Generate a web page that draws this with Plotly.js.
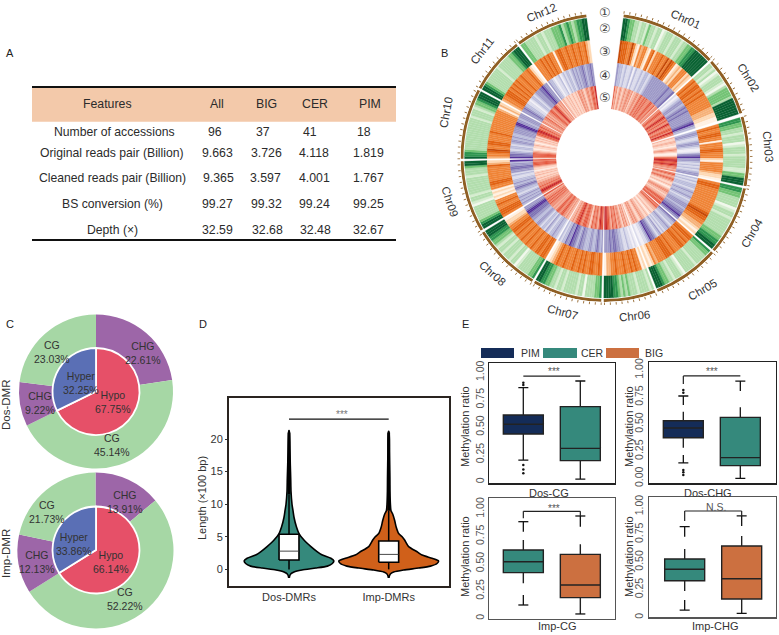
<!DOCTYPE html>
<html><head><meta charset="utf-8">
<script src="https://cdn.plot.ly/plotly-3.0.1.min.js"></script>
<style>html,body{margin:0;padding:0;background:#fff}</style></head>
<body><div id="chart" style="width:779px;height:635px"></div>
<script>
// ---------- Panel A data
const tableHeader = ["Features","All","BIG","CER","PIM"];
const tableLabels = ["Number of accessions","Original reads pair (Billion)","Cleaned reads pair (Billion)","BS conversion (%)","Depth (×)"];
const tableAll = ["96","9.663","9.365","99.27","32.59"];
const tableBIG = ["37","3.726","3.597","99.32","32.68"];
const tableCER = ["41","4.118","4.001","99.24","32.48"];
const tablePIM = ["18","1.819","1.767","99.25","32.67"];

// ---------- Panel B data
const chrNames = ["Chr01","Chr02","Chr03","Chr04","Chr05","Chr06","Chr07","Chr08","Chr09","Chr10","Chr11","Chr12"];
const chrStart = [7.5,48,73.5,102.5,131.5,159.5,181.5,210.5,239.5,269.5,299,323];
const chrEnd = [47,72,101.5,130.5,158.5,180.5,209.5,238.5,268.5,298,322,352.5];
const ringGreen = ["5543322122132212201222122212233445555555","221201222102333325555555","4433221222012221222221133555","44332222012212222222334455","4332222212222201222122334555","212222122232323445555","4332222022122222122122334455","4332222210221222122123344555","55432222220122122222221222355","544322222222222222122212334555","554322222221222222334555","332222122122233342343234455"];
const ringOrange = ["5444335310323310341333433535430121333121","3434434343333332221100","3433443303334433310333332110","3443333333333345443322101","3443434433343444333323101","1033434334333433220","3433443343433433343343210","344344334334334334344332110","3444334330101033443333333421","23345334433334333333333332021","2334443434343343334310","3334343433034433433433433421"];
const ringPurple = ["3221211202112122123333333334334","10123323434333334532","2332112332100134533212121233","2121222123223212233323344543","432212322121321234453211001","0101121122334434333","3234322332223343234453342212","1223221231221233223344455433","23232321223432322112133443325","54432122123323223333455332333","33432211012212333445433","32210112012122123232334323343"];
const ringRed = ["4231232123223323122332343343433344334233","33443345434335433443543","2112211012321001345544543323","3432343211210123322122344344","434322112101211223211232321","21323123324334234455","4454234334213344433454432322","2232334433443232333434343324","345543433322121121210112344434","3444321011210121213445543433","33233423233443345432323","22112121121121332321233234435"];
const paletteGreen = ["#f1f8ec","#d6edd0","#b3deae","#74c476","#2f9650","#0b6333"];
const paletteOrange = ["#fff1e4","#fdd9b5","#f6b27a","#f08538","#e26414","#c64a08"];
const palettePurple = ["#f2f0f7","#dcdcec","#bcbddc","#9e9ac8","#7d72b4","#54309a"];
const paletteRed = ["#fff0e8","#fdd5c5","#f7b39d","#ef8a70","#e5593f","#c72024"];
const circledLabels = ["①","②","③","④","⑤"];

// ---------- Panel C data
const outerLabels = ["CHG","CG","CHG","CG"];
const innerLabels = ["Hypo","Hyper"];
const dosOuter = [22.61,45.14,9.22,23.03];
const dosInner = [67.75,32.25];
const impOuter = [13.91,52.22,12.13,21.73];
const impInner = [66.14,33.86];

// ---------- Panel D data (half-width of each violin at each length)
const dosLen = [-1.3,-1,-0.7,-0.4,-0.1,0.2,0.5,0.9,1.3,1.7,2.2,2.7,3.5,4.5,5.5,6.5,8,9,10,12,14,16,18,20,21.3];
const dosWidth = [0.003,0.007,0.017,0.05,0.13,0.27,0.385,0.435,0.45,0.42,0.335,0.285,0.22,0.15,0.10,0.075,0.05,0.04,0.03,0.02,0.017,0.013,0.01,0.007,0.002];
const impLen = [-1.3,-1,-0.7,-0.4,-0.1,0.2,0.5,0.9,1.3,1.7,2.2,2.7,3.5,4.5,5,5.5,6.5,7.5,8.5,9,10,12,14,16,18,20,21.2];
const impWidth = [0.003,0.007,0.017,0.05,0.15,0.30,0.42,0.485,0.50,0.435,0.335,0.285,0.20,0.16,0.135,0.10,0.075,0.06,0.04,0.023,0.017,0.013,0.012,0.01,0.008,0.007,0.002];
const violinNames = ["Dos-DMRs","Imp-DMRs"];
const violinQ1 = [1.43,1.1], violinMedian = [2.8,2.3], violinQ3 = [5.4,4.35], violinLow = [0,0], violinHigh = [11.5,9], violinTop = [21,21];

// ---------- Panel E data: left / right box of each plot
const dosCgQ1=[.438,.195], dosCgMed=[.526,.307], dosCgQ3=[.611,.687], dosCgLow=[.20,.027], dosCgHigh=[.86,.921];
const dosCgStemLow=[.20,.027], dosCgStemHigh=[.86,.921], dosCgCapLow=[.20,.027], dosCgCapHigh=[.86,.921];
const dosCgOutliers=[[.906,.885,.155,.115,.08],[]];
const dosChgQ1=[.375,.117], dosChgMed=[.465,.191], dosChgQ3=[.532,.563], dosChgLow=[.283,0], dosChgHigh=[.615,.655];
const dosChgStemLow=[.215,0], dosChgStemHigh=[.677,.806], dosChgCapLow=[.142,0], dosChgCapHigh=[.76,.898];
const dosChgOutliers=[[.815,.79,.077,.055,.03],[]];
const impCgQ1=[.418,.189], impCgMed=[.518,.305], impCgQ3=[.625,.585], impCgLow=[.32,.04], impCgHigh=[.716,.677];
const impCgStemLow=[.213,.04], impCgStemHigh=[.793,.838], impCgCapLow=[.122,.04], impCgCapHigh=[.884,.936];
const impCgOutliers=[[],[]];
const impChgQ1=[.331,.166], impChgMed=[.434,.349], impChgQ3=[.527,.645], impChgLow=[.238,.036], impChgHigh=[.617,.735];
const impChgStemLow=[.157,.036], impChgStemHigh=[.729,.825], impChgCapLow=[.066,.036], impChgCapHigh=[.819,.916];
const impChgOutliers=[[],[]];
const pimColor="#142c58", cerColor="#35897c", bigColor="#cc7040";

// ---------- helpers
const W=779,H=635;
const px=x=>x/W, py=y=>1-y/H;
const annotations=[], shapes=[], traces=[];
function note(text,x,y,size,color,extra){
  annotations.push(Object.assign({text:text,x:px(x),y:py(y),xref:"paper",yref:"paper",showarrow:false,xanchor:"center",yanchor:"middle",borderpad:0,
    font:{family:"Liberation Sans, Arial, sans-serif",size:size,color:color||"#333"}},extra||{}));
}
function rect(x0,y0,x1,y1,color){shapes.push({type:"rect",xref:"paper",yref:"paper",x0:px(x0),x1:px(x1),y0:py(y0),y1:py(y1),fillcolor:color,line:{width:0},layer:"below"});}
function rule(x0,x1,y,w,color){shapes.push({type:"line",xref:"paper",yref:"paper",x0:px(x0),x1:px(x1),y0:py(y),y1:py(y),line:{width:w,color:color}});}

// ---------- letters
[["A",10,53],["B",444,53],["C",10,324],["D",203,324],["E",466,324]].forEach(l=>note(l[0],l[1],l[2],11,"#222"));

// ---------- Panel A
rect(32,87,396,121.7,"#f3c9aa");
rule(32,396,87,2,"#111"); rule(32,396,240,2,"#111");
const headX=[107,217,266,315,370], rowY=[131.7,152.7,178.3,204,230];
tableHeader.forEach((t,i)=>note(t,headX[i],104,12.3,"#2b2b2b"));
const labX=[114,112,112,112,112];
const colX=[[215,217,218,217,217],[263,266,265,266,267],[310,314,314,314,315],[364,368,368,368,368]];
tableLabels.forEach((t,i)=>note(t,labX[i],rowY[i],12.2,"#2b2b2b"));
[tableAll,tableBIG,tableCER,tablePIM].forEach((c,j)=>c.forEach((t,i)=>note(t,colX[j][i],rowY[i],12.3,"#2b2b2b")));

// ---------- Panel B
const ringBase=[118,95,72,49], ringHeight=[22.5,23,23,23];
[[ringGreen,paletteGreen],[ringOrange,paletteOrange],[ringPurple,palettePurple],[ringRed,paletteRed]].forEach((rp,k)=>{
  const theta=[],width=[],color=[];
  rp[0].forEach((s,c)=>{
    const step=(chrEnd[c]-chrStart[c])/s.length;
    for(let i=0;i<s.length;i++){theta.push(chrStart[c]+step*(i+0.5));width.push(step);color.push(rp[1][+s[i]]);}
  });
  traces.push({type:"barpolar",subplot:"polar",theta:theta,width:width,r:theta.map(()=>ringHeight[k]),base:theta.map(()=>ringBase[k]),
    marker:{color:color,line:{width:0.25,color:color}},hoverinfo:"skip",showlegend:false});
});
traces.push({type:"barpolar",subplot:"polar",theta:chrStart.map((s,i)=>(s+chrEnd[i])/2),width:chrStart.map((s,i)=>chrEnd[i]-s),
  r:chrStart.map(()=>3),base:chrStart.map(()=>141.5),marker:{color:"#8f5f24",line:{width:0}},hoverinfo:"skip",showlegend:false});
const chrTicks=[];
chrStart.forEach((s,i)=>{for(let t=s;t<=chrEnd[i]+0.01;t+=2.3)chrTicks.push(t);});
const chrLabelX=[685,748,768,752,702,634,562,492,450,446,482,541], chrLabelY=[19,77,146,233,290,316,312,273,202,113,51,13], chrLabelA=[24,58,85,-60,-30,-6,15,42,72,-80,-52,-23];
chrNames.forEach((n,i)=>note(n,chrLabelX[i],chrLabelY[i],11.5,"#333",{textangle:chrLabelA[i]}));
const circledY=[12,28,52,75,98];
circledLabels.forEach((c,i)=>note(c,605,circledY[i],13,"#444",{font:{family:"DejaVu Sans",size:13,color:"#444"}}));

// ---------- Panel C
function pie(vals,labels,colors,cx,cy,r,hole,line){
  // slices with the same name must stay separate, so each pie label is made unique
  traces.push({type:"pie",values:vals,labels:labels.map((l,i)=>l+" #"+(i+1)),sort:false,direction:"clockwise",rotation:0,textinfo:"none",hoverinfo:"skip",showlegend:false,hole:hole,
    domain:{x:[px(cx-r),px(cx+r)],y:[py(cy+r),py(cy-r)]},marker:{colors:colors,line:line}});
}
const gC="#a6d7a5",pC="#9d66a8",rC="#e65068",bC="#5a6fb5";
pie(dosOuter,outerLabels,[pC,gC,pC,gC],96,391.5,77,0.5,{width:0});
pie(dosInner,innerLabels,[rC,bC],96,391.5,43.5,0,{width:1.8,color:"#fff"});
pie(impOuter,outerLabels,[pC,gC,pC,gC],95.5,550.5,78,0.5,{width:0});
pie(impInner,innerLabels,[rC,bC],96,550,43.5,0,{width:1.8,color:"#fff"});
const dosOutX=[143,112,40,52], dosOutY=[353,445,403,352], dosInX=[113,81], dosInY=[402,383];
const impOutX=[125,125,37,47], impOutY=[502,599,562,512], impInX=[111,74], impInY=[562,544];
dosOuter.forEach((v,i)=>note(outerLabels[i]+"<br>"+v.toFixed(2)+"%",dosOutX[i],dosOutY[i],10.5,"#333"));
impOuter.forEach((v,i)=>note(outerLabels[i]+"<br>"+v.toFixed(2)+"%",impOutX[i],impOutY[i],10.5,"#333"));
dosInner.forEach((v,i)=>note(innerLabels[i]+"<br>"+v.toFixed(2)+"%",dosInX[i],dosInY[i],10.5,"#333"));
impInner.forEach((v,i)=>note(innerLabels[i]+"<br>"+v.toFixed(2)+"%",impInX[i],impInY[i],10.5,"#333"));
note("Dos-DMR",6,405,11.5,"#333",{textangle:-90});
note("Imp-DMR",6,554,11.5,"#333",{textangle:-90});

// ---------- Panel D
function violin(c,len,wid,fill){
  const xs=wid.map(w=>c-w).concat(wid.slice().reverse().map(w=>c+w));
  const ys=len.concat(len.slice().reverse());
  traces.push({type:"scatter",mode:"lines",x:xs,y:ys,xaxis:"x",yaxis:"y",fill:"toself",fillcolor:fill,line:{color:"#000",width:1.6,shape:"spline",smoothing:0.6},hoverinfo:"skip",showlegend:false});
}
violin(0,dosLen,dosWidth,"#35897c");
violin(1,impLen,impWidth,"#d0601a");
// the box is a set of scatter traces so that it sits on top of the filled violin
const boxHalf=0.1;
violinNames.forEach((n,i)=>{
  const line=(xs,ys,w,col,fill)=>traces.push(Object.assign({type:"scatter",mode:"lines",x:xs,y:ys,xaxis:"x",yaxis:"y",line:{color:col,width:w},hoverinfo:"skip",showlegend:false},fill?{fill:"toself",fillcolor:fill}:{}));
  line([i,i],[violinLow[i],violinHigh[i]],1.5,"#000");
  line([i,i],[violinHigh[i],violinTop[i]],2.8,"#000");
  line([i-boxHalf,i+boxHalf,i+boxHalf,i-boxHalf,i-boxHalf],[violinQ1[i],violinQ1[i],violinQ3[i],violinQ3[i],violinQ1[i]],1.6,"#000","#fff");
  line([i-boxHalf,i+boxHalf],[violinMedian[i],violinMedian[i]],0.9,"#333");
});
shapes.push({type:"line",xref:"x",yref:"y",x0:0,x1:1,y0:23.05,y1:23.05,line:{width:1.3,color:"#111"}});
note("***",342,414,10,"#777");
note("Length (×100 bp)",202,498,11,"#333",{textangle:-90});

// ---------- Panel E
const frames=[[118,495,160,520,516,329,220,391],[597,978,157,520,505,325,700,871],[118,495,565,927,925,328,220,391],[597,978,562,922,922,332,704,875]];
const zx=v=>450+v/3, zy=v=>310+v/3;
const layoutAxes={};
const bxW=120/171, capW=15/171;
function panelE(n,fr,colors,q1,med,q3,low,high,stemLow,stemHigh,capLow,capHigh,outliers,zeroLabel,frameColor){
  const xa="x"+n, ya="y"+n, spacing=(fr[7]-fr[6]);
  const xr=[-(fr[6]-fr[0])/spacing, 1+(fr[1]-fr[7])/spacing];
  const yr=[(fr[4]-fr[3])/fr[5],(fr[4]-fr[2])/fr[5]];
  const ax={showline:true,mirror:true,linecolor:frameColor,linewidth:1.4,showgrid:false,zeroline:false,fixedrange:true};
  layoutAxes["xaxis"+n]=Object.assign({},ax,{domain:[px(zx(fr[0])),px(zx(fr[1]))],range:xr,anchor:ya,showticklabels:false,ticks:""});
  layoutAxes["yaxis"+n]=Object.assign({},ax,{domain:[py(zy(fr[3])),py(zy(fr[2]))],range:yr,anchor:xa,tickmode:"array",tickvals:[0,.25,.5,.75,1],ticktext:[zeroLabel,"0.25","0.50","0.75","1.00"],
    tickangle:-90,ticks:"",ticklen:0,tickfont:{family:"Liberation Sans, Arial, sans-serif",size:10.5,color:"#555"}});
  [0,1].forEach(i=>{
    traces.push({type:"box",x:[i],q1:[q1[i]],median:[med[i]],q3:[q3[i]],lowerfence:[low[i]],upperfence:[high[i]],width:bxW,whiskerwidth:0,fillcolor:colors[i],line:{color:"#222",width:1.4},xaxis:xa,yaxis:ya,hoverinfo:"skip",showlegend:false});
    const sx=[i,i,null,i,i,null,i-capW,i+capW,null,i-capW,i+capW];
    const sy=[capHigh[i],stemHigh[i],null,capLow[i],stemLow[i],null,capHigh[i],capHigh[i],null,capLow[i],capLow[i]];
    traces.push({type:"scatter",mode:"lines",x:sx,y:sy,xaxis:xa,yaxis:ya,line:{color:"#111",width:1.3},hoverinfo:"skip",showlegend:false});
    if(outliers[i].length)traces.push({type:"scatter",mode:"markers",x:outliers[i].map(()=>i),y:outliers[i],xaxis:xa,yaxis:ya,marker:{size:2.5,color:"#111"},hoverinfo:"skip",showlegend:false});
  });
}
panelE(2,frames[0],[pimColor,cerColor],dosCgQ1,dosCgMed,dosCgQ3,dosCgLow,dosCgHigh,dosCgStemLow,dosCgStemHigh,dosCgCapLow,dosCgCapHigh,dosCgOutliers,"0","#222");
panelE(3,frames[1],[pimColor,cerColor],dosChgQ1,dosChgMed,dosChgQ3,dosChgLow,dosChgHigh,dosChgStemLow,dosChgStemHigh,dosChgCapLow,dosChgCapHigh,dosChgOutliers,"0.00","#222");
panelE(4,frames[2],[cerColor,bigColor],impCgQ1,impCgMed,impCgQ3,impCgLow,impCgHigh,impCgStemLow,impCgStemHigh,impCgCapLow,impCgCapHigh,impCgOutliers,"0","#555");
panelE(5,frames[3],[cerColor,bigColor],impChgQ1,impChgMed,impChgQ3,impChgLow,impChgHigh,impChgStemLow,impChgStemHigh,impChgCapLow,impChgCapHigh,impChgOutliers,"0","#555");
function bracket(n,y,dropL,dropR){
  const l={type:"line",xref:"x"+n,yref:"y"+n,line:{width:1.2,color:"#222"}};
  shapes.push(Object.assign({},l,{x0:0,x1:1,y0:y,y1:y}));
  if(dropL!==null)shapes.push(Object.assign({},l,{x0:0,x1:0,y0:y,y1:dropL}));
  if(dropR!==null)shapes.push(Object.assign({},l,{x0:1,x1:1,y0:y,y1:dropR}));
}
bracket(2,0.965,null,null);
bracket(3,0.945,0.87,null);
bracket(4,0.979,0.915,0.936);
bracket(5,0.961,0.871,0.916);
[["***",554,371],["***",712,371],["***",554,508],["N.S.",716,507]].forEach(s=>note(s[0],s[1],s[2],s[0]==="N.S."?10.5:10,"#555"));
[["Methylation ratio",465,427],["Methylation ratio",629,427],["Methylation ratio",465,557],["Methylation ratio",629,557]].forEach(s=>note(s[0],s[1],s[2],11,"#333",{textangle:-90}));
[["Dos-CG",549,493],["Dos-CHG",708,493],["Imp-CG",557,626],["Imp-CHG",715,626]].forEach(s=>note(s[0],s[1],s[2],11,"#333"));
rect(481,348,514,358,pimColor); rect(543,348,577,358,cerColor); rect(606,348,639,358,bigColor);
[["PIM",530],["CER",592],["BIG",654]].forEach(s=>note(s[0],s[1],352.5,10.5,"#333"));

const layout=Object.assign({
  width:W,height:H,margin:{l:0,r:0,t:0,b:0},paper_bgcolor:"#fff",plot_bgcolor:"#fff",showlegend:false,
  annotations:annotations,shapes:shapes,boxmode:"overlay",
  polar:{domain:{x:[px(605-144.5),px(605+144.5)],y:[py(157.5+144.5),py(157.5-144.5)]},barmode:"overlay",bgcolor:"rgba(0,0,0,0)",
    radialaxis:{visible:false,range:[0,144.5]},
    angularaxis:{rotation:90,direction:"clockwise",showgrid:false,showline:false,showticklabels:false,ticks:"outside",ticklen:2.5,tickwidth:0.8,tickcolor:"#8f5f24",tickmode:"array",tickvals:chrTicks}},
  xaxis:{domain:[px(229),px(449)],range:[-0.602,1.605],anchor:"y",tickmode:"array",tickvals:[0,1],ticktext:violinNames,showline:true,mirror:true,linecolor:"#2a2420",linewidth:2,ticks:"",showgrid:false,zeroline:false,
    tickfont:{family:"Liberation Sans, Arial, sans-serif",size:11,color:"#333"}},
  yaxis:{domain:[py(586),py(398)],range:[-2.55,26.3],anchor:"x",tickmode:"array",tickvals:[0,5,10,15,20],ticktext:["0","5","10","15","20"],showline:true,mirror:true,linecolor:"#2a2420",linewidth:2,ticks:"outside",ticklen:2,tickcolor:"#333",showgrid:false,zeroline:false,
    tickfont:{family:"Liberation Sans, Arial, sans-serif",size:11,color:"#333"}}
},layoutAxes);
Plotly.newPlot("chart",traces,layout,{displayModeBar:false,staticPlot:true});
</script></body></html>
